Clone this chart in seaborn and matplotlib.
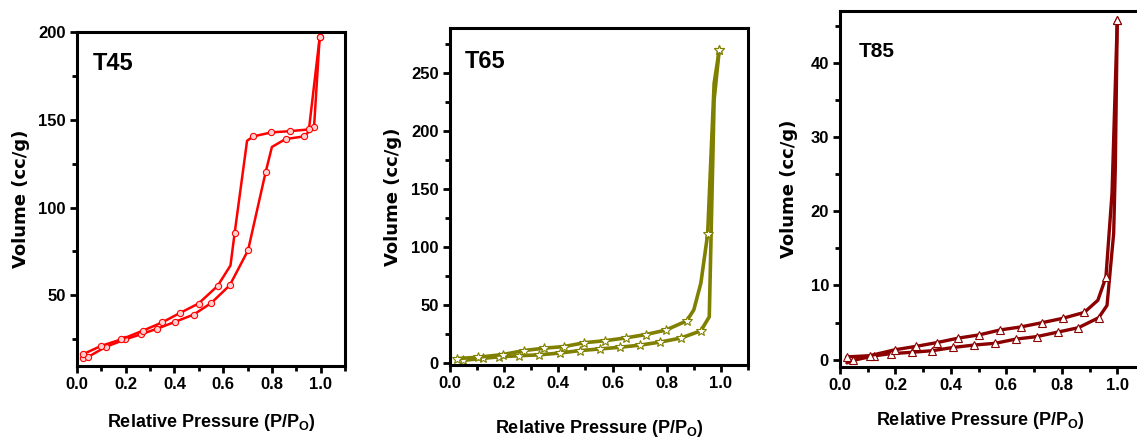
import numpy as np
import seaborn as sns
import matplotlib.pyplot as plt
from matplotlib import font_manager
from matplotlib.ticker import MultipleLocator

# --- data (P/P0, volume cc/g) ---
# T45: adsorption (lower branch), desorption (upper branch)
t45_ads_x = [0.026, 0.047, 0.118, 0.197, 0.263, 0.328, 0.403, 0.479, 0.551, 0.627,
             0.702, 0.774, 0.80, 0.856, 0.931, 0.973, 0.996]
t45_ads_y = [14.0, 15.0, 20.6, 24.8, 27.8, 30.9, 34.9, 39.0, 45.6, 55.7,
             75.6, 120.0, 134.5, 139.0, 140.5, 146.0, 197.0]
t45_ads_marks = [0, 1, 2, 3, 4, 5, 6, 7, 8, 9, 10, 11, 13, 14, 15, 16]
t45_des_x = [0.996, 0.952, 0.874, 0.798, 0.723, 0.698, 0.647, 0.63, 0.577, 0.499,
             0.424, 0.349, 0.27, 0.18, 0.10, 0.026]
t45_des_y = [197.0, 144.5, 143.5, 142.8, 140.5, 138.0, 85.4, 67.0, 55.3, 45.3,
             40.0, 34.5, 29.8, 24.8, 21.2, 16.5]
t45_des_marks = [0, 1, 2, 3, 4, 6, 8, 9, 10, 11, 12, 13, 14, 15]

# T65
t65_ads_x = [0.047, 0.12, 0.18, 0.256, 0.327, 0.405, 0.479, 0.553, 0.627, 0.701,
             0.775, 0.852, 0.926, 0.957, 0.975, 0.994]
t65_ads_y = [2.5, 4.2, 5.5, 6.5, 7.2, 8.8, 10.9, 12.3, 13.8, 15.6,
             18.2, 21.7, 27.9, 40.0, 227.0, 270.0]
t65_ads_marks = [0, 1, 2, 3, 4, 5, 6, 7, 8, 9, 10, 11, 12, 15]
t65_des_x = [0.994, 0.975, 0.951, 0.926, 0.90, 0.874, 0.796, 0.722, 0.648, 0.572,
             0.496, 0.422, 0.348, 0.272, 0.195, 0.105, 0.025]
t65_des_y = [270.0, 241.0, 111.0, 69.0, 46.0, 36.5, 28.5, 24.7, 21.8, 19.4,
             17.7, 14.4, 13.0, 10.9, 7.5, 5.2, 4.0]
t65_des_marks = [0, 2, 5, 6, 7, 8, 9, 10, 11, 12, 13, 14, 15, 16]

# T85
t85_ads_x = [0.025, 0.048, 0.123, 0.183, 0.259, 0.333, 0.409, 0.484, 0.56, 0.634,
             0.71, 0.785, 0.86, 0.933, 0.963, 0.987, 0.993, 1.0]
t85_ads_y = [-0.45, -0.1, 0.5, 0.8, 0.98, 1.2, 1.64, 1.96, 2.2, 2.76,
             3.1, 3.7, 4.3, 5.65, 7.3, 17.0, 26.0, 45.8]
t85_ads_marks = [1, 2, 3, 4, 5, 6, 7, 8, 9, 10, 11, 12, 13, 17]
t85_des_x = [1.0, 0.981, 0.959, 0.93, 0.881, 0.803, 0.728, 0.652, 0.578, 0.502,
             0.427, 0.351, 0.274, 0.199, 0.108, 0.024]
t85_des_y = [45.8, 22.4, 11.1, 8.0, 6.36, 5.56, 4.97, 4.4, 4.0, 3.33,
             2.9, 2.3, 1.78, 1.33, 0.53, 0.36]
t85_des_marks = [0, 2, 4, 5, 6, 7, 8, 9, 10, 11, 12, 13, 14, 15]

sns.set_style("white")
names = {f.name for f in font_manager.fontManager.ttflist}
narrow = "Liberation Sans Narrow" if "Liberation Sans Narrow" in names else "Liberation Sans"
plt.rcParams["font.family"] = [narrow, "DejaVu Sans"]
plt.rcParams["font.weight"] = "bold"
plt.rcParams["mathtext.fontset"] = "custom"
plt.rcParams["mathtext.rm"] = narrow + ":bold"
plt.rcParams["mathtext.default"] = "rm"
for key in ["text.color", "axes.labelcolor", "xtick.color", "ytick.color"]:
    plt.rcParams[key] = "black"

fig = plt.figure(figsize=(11.37, 4.37), dpi=100)
W, H = 1137, 437


def make_axes(left, right, top, bottom):
    return fig.add_axes([left / W, (H - bottom) / H, (right - left) / W, (bottom - top) / H])


panels = [
    dict(ax=make_axes(77, 345, 32, 366), name="T45", color="#ff0000", marker="o", ms=4.5,
         mfc="#ffd0d0", lw=1.8,
         branches=[(t45_ads_x, t45_ads_y, t45_ads_marks), (t45_des_x, t45_des_y, t45_des_marks)],
         ylim=(9.7, 200), major=50, minor=25, title_xy=(0.06, 0.907), title_size=17,
         ylab_x=-0.175, xlab=(0.5, -0.138)),
    dict(ax=make_axes(450, 748, 28, 365), name="T65", color="#808000", marker="*", ms=7,
         mfc="white", lw=2.6,
         branches=[(t65_ads_x, t65_ads_y, t65_ads_marks), (t65_des_x, t65_des_y, t65_des_marks)],
         ylim=(-1.5, 288.6), major=50, minor=25, title_xy=(0.05, 0.9), title_size=17,
         ylab_x=-0.161, xlab=(0.5, -0.157)),
    dict(ax=make_axes(840, 1145, 11, 367), name="T85", color="#8b0000", marker="^", ms=6,
         mfc="white", lw=2.4,
         branches=[(t85_ads_x, t85_ads_y, t85_ads_marks), (t85_des_x, t85_des_y, t85_des_marks)],
         ylim=(-1.0, 47.0), major=10, minor=5, title_xy=(0.06, 0.885), title_size=15,
         ylab_x=-0.138, xlab=(0.46, -0.121)),
]

for p in panels:
    ax = p["ax"]
    for bx, by, marks in p["branches"]:
        sns.lineplot(x=bx, y=by, sort=False, estimator=None, ax=ax, color=p["color"],
                     lw=p["lw"], marker=p["marker"], markersize=p["ms"],
                     markerfacecolor=p["mfc"], markeredgecolor=p["color"],
                     markeredgewidth=0.8, markevery=marks, clip_on=False)
    ax.set_xlim(0, 1.1)
    ax.set_ylim(*p["ylim"])
    ax.set_xticks([0.0, 0.2, 0.4, 0.6, 0.8, 1.0])
    ax.xaxis.set_minor_locator(MultipleLocator(0.1))
    ax.yaxis.set_major_locator(MultipleLocator(p["major"]))
    ax.yaxis.set_minor_locator(MultipleLocator(p["minor"]))
    ax.set_xticklabels(["0.0", "0.2", "0.4", "0.6", "0.8", "1.0"])
    ax.tick_params(axis="both", which="major", direction="out", length=5, width=2,
                   labelsize=12, pad=3, bottom=True, left=True, colors="black")
    ax.tick_params(axis="both", which="minor", direction="out", length=3.5, width=2,
                   bottom=True, left=True, colors="black")
    for lab in ax.get_xticklabels() + ax.get_yticklabels():
        lab.set_fontweight("bold")
    for s in ax.spines.values():
        s.set_linewidth(2.2)
        s.set_color("black")
    ax.text(p["title_xy"][0], p["title_xy"][1], p["name"], transform=ax.transAxes,
            fontsize=p["title_size"], fontweight="bold", ha="left", va="center",
            color="black")
    ax.set_ylabel("Volume (cc/g)", fontsize=13, fontweight="bold",
                  family=["DejaVu Sans"], color="black")
    ax.yaxis.set_label_coords(p["ylab_x"], 0.5)
    ax.set_xlabel("Relative Pressure (P/P$_{O}$)", fontsize=13, fontweight="bold",
                  color="black")
    ax.xaxis.set_label_coords(*p["xlab"])

fig.savefig("out.png", dpi=100)
